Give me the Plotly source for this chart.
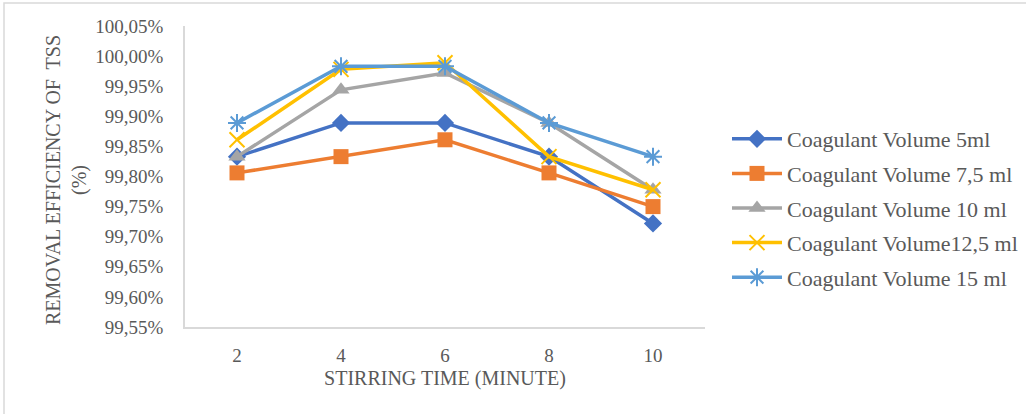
import plotly.graph_objects as go

W, H = 1026, 414
L, R, T, B = 185, 321, 26, 87

times = ["2", "4", "6", "8", "10"]
names = ["Coagulant Volume 5ml", "Coagulant Volume 7,5 ml", "Coagulant Volume 10 ml",
         "Coagulant Volume12,5 ml", "Coagulant Volume 15 ml"]
vol_5 = [99.833, 99.889, 99.889, 99.833, 99.722]
vol_7_5 = [99.806, 99.833, 99.861, 99.806, 99.750]
vol_10 = [99.833, 99.944, 99.972, 99.889, 99.778]
vol_12_5 = [99.861, 99.978, 99.989, 99.833, 99.778]
vol_15 = [99.889, 99.983, 99.983, 99.889, 99.833]
yticks = [99.55, 99.60, 99.65, 99.70, 99.75, 99.80, 99.85, 99.90, 99.95, 100.00, 100.05]
ytick_labels = ["99,55%", "99,60%", "99,65%", "99,70%", "99,75%", "99,80%",
                "99,85%", "99,90%", "99,95%", "100,00%", "100,05%"]

series = [vol_5, vol_7_5, vol_10, vol_12_5, vol_15]
colors = ["#4472C4", "#ED7D31", "#A5A5A5", "#FFC000", "#5B9BD5"]
symbols = ["diamond", "square", "triangle-up", "x-thin", "asterisk"]
sizes = [14, 15, 15, 15, 15]

FONT = "Liberation Serif"
TXT = "#595959"

fig = go.Figure()
for i, (nm, ys) in enumerate(zip(names, series)):
    thin = symbols[i] in ("x-thin", "asterisk")
    fig.add_trace(go.Scatter(
        x=times, y=ys, name=nm, mode="lines+markers",
        legendgroup=f"g{i}",
        line=dict(color=colors[i], width=3.5),
        marker=dict(symbol=symbols[i], size=sizes[i], color=colors[i],
                    line=dict(color=colors[i], width=2 if thin else 0)),
    ))

pw = W - L - R
ph = H - T - B

def px(x):
    return (x - L) / pw

def py(y):
    return (H - B - y) / ph

fig.update_layout(
    width=W, height=H,
    margin=dict(l=L, r=R, t=T, b=B, autoexpand=False),
    paper_bgcolor="white", plot_bgcolor="white",
    font=dict(family=FONT, color=TXT, size=19),
    showlegend=True,
    legend=dict(xref="container", yref="container", x=727 / W, y=1 - 208 / H,
                xanchor="left", yanchor="middle",
                font=dict(family=FONT, size=22, color=TXT),
                tracegroupgap=3, itemwidth=50, bgcolor="rgba(0,0,0,0)"),
    xaxis=dict(type="category", range=[-0.5, 4.5], showgrid=False,
               showline=True, linecolor="#D9D9D9", linewidth=1.5,
               ticks="", ticklabelstandoff=10,
               tickfont=dict(family=FONT, size=19, color=TXT),
               title=dict(text="STIRRING TIME (MINUTE)", standoff=6,
                          font=dict(family=FONT, size=20, color=TXT)),
               zeroline=False),
    yaxis=dict(range=[99.55, 100.05], tickvals=yticks, ticktext=ytick_labels,
               showgrid=False, showline=True, linecolor="#D9D9D9", linewidth=1.5,
               ticks="", ticklabelstandoff=16, zeroline=False,
               tickfont=dict(family=FONT, size=19, color=TXT)),
    annotations=[dict(text="REMOVAL EFFICIENCY OF  TSS<br>(%)", textangle=-90,
                      xref="paper", yref="paper", x=px(66), y=py(180),
                      xanchor="center", yanchor="middle", showarrow=False,
                      font=dict(family=FONT, size=20, color=TXT))],
    shapes=[dict(type="rect", xref="paper", yref="paper",
                 x0=px(4), x1=px(1040), y0=py(430), y1=py(3),
                 line=dict(color="#D9D9D9", width=1.5), fillcolor="rgba(0,0,0,0)",
                 layer="below")],
)

fig.write_html("out.html", config={"displayModeBar": False},
               post_script="document.body.style.margin='0';")
